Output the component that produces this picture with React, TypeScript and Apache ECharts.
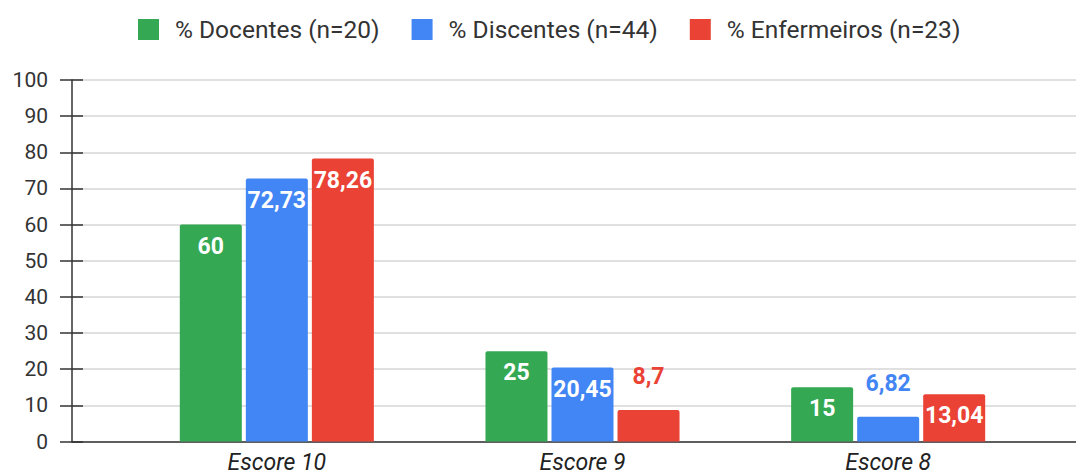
import React, { useEffect, useRef } from "react";
import * as echarts from "echarts";

const categories = ["Escore 10", "Escore 9", "Escore 8"];
const seriesNames = ["% Docentes (n=20)", "% Discentes (n=44)", "% Enfermeiros (n=23)"];
const docentes = [60, 25, 15];
const discentes = [72.73, 20.45, 6.82];
const enfermeiros = [78.26, 8.7, 13.04];
const colors = ["#34a853", "#4285f4", "#ea4335"];

const fmt = (v: number) => String(v).replace(".", ",");

export default function App() {
  const ref = useRef<HTMLDivElement>(null);
  useEffect(() => {
    if (!ref.current) return;
    const chart = echarts.init(ref.current, undefined, { renderer: "svg" });
    const values = [docentes, discentes, enfermeiros];
    const series = values.map((vals, i) => ({
      name: seriesNames[i],
      type: "bar",
      xAxisIndex: 0,
      yAxisIndex: 0,
      barWidth: 62,
      barGap: "6.5%",
      itemStyle: { color: colors[i], borderRadius: [2, 2, 0, 0] },
      data: vals.map((v) => ({
        value: v,
        label:
          v < 10
            ? { position: "top", distance: 22, color: colors[i] }
            : { position: "insideTop", distance: 10, color: "#ffffff" },
      })),
      label: {
        show: true,
        fontFamily: "Roboto",
        fontWeight: "bold",
        fontSize: 23,
        formatter: (p: any) => fmt(p.value),
      },
    }));
    chart.setOption({
      animation: false,
      textStyle: { fontFamily: "Roboto" },
      legend: {
        data: seriesNames,
        left: 138,
        top: 17,
        itemWidth: 21,
        itemHeight: 21,
        itemGap: 32,
        padding: 0,
        icon: "rect",
        textStyle: { fontSize: 24.5, color: "#333", fontFamily: "Roboto", padding: [0, 0, 0, 11] },
      },
      grid: [
        { left: 124, width: 917, top: 80, height: 361.5 },
        { left: 72, right: 0, top: 80, height: 361.5 },
      ],
      xAxis: [
        {
          gridIndex: 0,
          type: "category",
          data: categories,
          axisLine: { show: false },
          axisTick: { show: false },
          axisLabel: { fontSize: 23, fontStyle: "italic", color: "#222", margin: 9, fontFamily: "Roboto" },
        },
        {
          gridIndex: 1,
          type: "value",
          min: 0,
          max: 1,
          position: "bottom",
          axisLine: { show: true, lineStyle: { color: "#333", width: 1.5 } },
          axisTick: { show: false },
          axisLabel: { show: false },
          splitLine: { show: false },
        },
      ],
      yAxis: [
        { gridIndex: 0, type: "value", min: 0, max: 100, show: false },
        {
          gridIndex: 1,
          type: "value",
          min: 0,
          max: 100,
          interval: 10,
          axisLine: { show: true, lineStyle: { color: "#333", width: 1.5 } },
          axisTick: { show: true, length: 12, lineStyle: { color: "#333", width: 1.5 } },
          axisLabel: { fontSize: 21, color: "#333", margin: 24, fontFamily: "Roboto" },
          splitLine: { show: true, lineStyle: { color: "#d6d6d6", width: 1.5 } },
        },
        {
          gridIndex: 1,
          type: "value",
          min: 0,
          max: 100,
          interval: 10,
          position: "left",
          axisLine: { show: false },
          axisTick: { show: true, inside: true, length: 11, lineStyle: { color: "#333", width: 1.5 } },
          axisLabel: { show: false },
          splitLine: { show: false },
        },
      ],
      series,
    });
    return () => chart.dispose();
  }, []);
  return (
    <div
      ref={ref}
      style={{ position: "fixed", left: 0, top: 0, width: 1076, height: 475, background: "#fff" }}
    />
  );
}
